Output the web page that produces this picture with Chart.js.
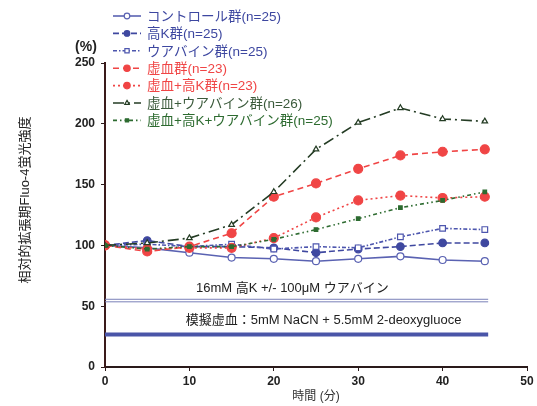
<!DOCTYPE html>
<html><head><meta charset="utf-8">
<script src="https://cdn.jsdelivr.net/npm/chart.js@4/dist/chart.umd.min.js"></script>
<style>html,body{margin:0;padding:0;background:#fff}#wrap{width:537px;height:406px}</style>
</head><body><div id="wrap"><canvas id="c" width="537" height="406"></canvas></div>
<script>
const times = [0, 5, 10, 15, 20, 25, 30, 35, 40, 45];
const seriesLabels = [
  'コントロール群(n=25)', '高K群(n=25)', 'ウアバイン群(n=25)',
  '虚血群(n=23)', '虚血+高K群(n=23)', '虚血+ウアバイン群(n=26)', '虚血+高K+ウアバイン群(n=25)'
];
const control      = [100, 98, 94, 90, 89, 87, 89, 91, 88, 87];
const highK        = [100, 104, 99, 99, 98, 94, 97, 99, 102, 102];
const ouabain      = [100, 101, 99, 101, 97, 99, 98, 107, 114, 113];
const ischemia     = [100, 95, 99, 110, 140, 151, 163, 174, 177, 179];
const ischHighK    = [100, 97, 98, 98, 106, 123, 137, 141, 139, 140];
const ischOuabain  = [100, 102, 106, 117, 144, 179, 201, 213, 204, 202];
const ischHKOua    = [100, 97, 99, 99, 105, 113, 122, 131, 137, 144];
const xTicks = [0, 10, 20, 30, 40, 50];
const yTicks = [0, 50, 100, 150, 200, 250];
const barHighK = [55.7, 53.6];   // 16mM high K period (double line)
const barIsch = [26.7];          // simulated ischemia period
const barSpan = [0, 45.4];
const noteHighK = '16mM 高K +/- 100μM ウアバイン';
const noteIsch = '模擬虚血：5mM NaCN + 5.5mM 2-deoxygluoce';
const yTitle = '相対的拡張期Fluo-4蛍光強度';
const xTitle = '時間 (分)';
const unitLabel = '(%)';

const FONT = '"Liberation Sans", Arial, "Noto Sans CJK JP", sans-serif';
const toXY = arr => arr.map((v, i) => ({x: times[i], y: v}));
const styles = [
  {c:'#5a62b2', dash:[], ps:'circle', r:3.5, lr:2.8, fill:'#ffffff', lc:'#3d47a0'},
  {c:'#3f48a0', dash:[6,3], ps:'circle', r:3.8, lr:2.8, fill:'#3f48a0', lc:'#3d47a0'},
  {c:'#4d56ae', dash:[4,2,1.5,2], ps:'rect', r:4, lr:3, fill:'#ffffff', lc:'#3d47a0'},
  {c:'#f04545', dash:[6,4], ps:'circle', r:4.5, lr:3.2, fill:'#f04545', lc:'#f04545'},
  {c:'#f04545', dash:[2,3], ps:'circle', r:4.5, lr:3.2, fill:'#f04545', lc:'#f04545'},
  {c:'#243c24', dash:[11,4,2,4], ps:'triangle', r:3.2, lr:2.6, fill:'#ffffff', lc:'#3b5a3b'},
  {c:'#2d6b30', dash:[4,3,1.5,3,1.5,3], ps:'rect', r:2.5, lr:2.2, fill:'#2d6b30', lc:'#2d6b30'}
];
const allSeries = [control, highK, ouabain, ischemia, ischHighK, ischOuabain, ischHKOua];
const datasets = allSeries.map((s, i) => ({
  label: seriesLabels[i], data: toXY(s), borderColor: styles[i].c, borderWidth: 1.6,
  borderDash: styles[i].dash, pointStyle: styles[i].ps, pointRadius: styles[i].r,
  pointBackgroundColor: styles[i].fill, pointBorderColor: styles[i].c, pointBorderWidth: 1.2,
  tension: 0, order: 7 - i, isSeries: true, legendColor: styles[i].lc, legendRadius: styles[i].lr
}));
barHighK.forEach(v => datasets.push({label: '', data: barSpan.map(x => ({x, y: v})),
  borderColor: '#7a80b8', borderWidth: 1, pointRadius: 0, isSeries: false}));
barIsch.forEach(v => datasets.push({label: '', data: barSpan.map(x => ({x, y: v})),
  borderColor: '#4a55a8', borderWidth: 4, pointRadius: 0, isSeries: false}));

const overlay = {
  id: 'overlay',
  afterDraw(chart) {
    const ctx = chart.ctx, xs = chart.scales.x, ys = chart.scales.y;
    ctx.save();
    ctx.fillStyle = '#222';
    ctx.font = '13px ' + FONT;
    ctx.textAlign = 'center'; ctx.textBaseline = 'middle';
    ctx.fillText(noteHighK, xs.getPixelForValue(22.2), ys.getPixelForValue(64.5));
    ctx.fillText(noteIsch, xs.getPixelForValue(25.9), ys.getPixelForValue(38.5));
    ctx.font = 'bold 14px ' + FONT;
    ctx.fillText(unitLabel, 86, 47);
    ctx.save();
    ctx.translate(25, 200); ctx.rotate(-Math.PI/2);
    ctx.font = '13px ' + FONT;
    ctx.fillText(yTitle, 0, 0);
    ctx.restore();
    // legend
    let y0 = 16;
    chart.data.datasets.filter(d => d.isSeries).forEach((d, i) => {
      const y = y0 + i * 17.4;
      ctx.strokeStyle = d.borderColor; ctx.lineWidth = 1.6;
      ctx.setLineDash(d.borderDash);
      ctx.beginPath(); ctx.moveTo(113, y); ctx.lineTo(141, y); ctx.stroke();
      ctx.setLineDash([]);
      ctx.lineWidth = 1.2; ctx.strokeStyle = d.pointBorderColor; ctx.fillStyle = d.pointBackgroundColor;
      Chart.helpers.drawPoint(ctx, {pointStyle: d.pointStyle, radius: d.legendRadius, borderWidth: 1.2}, 127, y);
      ctx.fillStyle = d.legendColor; ctx.textAlign = 'left';
      ctx.font = '13.5px ' + FONT;
      ctx.fillText(d.label, 147, y + 1);
    });
    ctx.restore();
  }
};

new Chart(document.getElementById('c'), {
  type: 'line',
  data: {datasets},
  options: {
    responsive: false, animation: false, devicePixelRatio: 1,
    layout: {padding: {left: 0, top: 63, right: 10, bottom: 0}},
    plugins: {legend: {display: false}, tooltip: {enabled: false}},
    scales: {
      x: {
        type: 'linear', min: 0, max: 50,
        afterBuildTicks: s => { s.ticks = xTicks.map(v => ({value: v})); },
        afterFit: s => { s.height = 39; },
        grid: {drawOnChartArea: false, drawTicks: true, tickLength: 4, color: '#2a1a1a'},
        border: {display: true, color: '#2a1a1a', width: 2},
        ticks: {color: '#222', padding: 3, font: {family: FONT, size: 12, weight: 'bold'}, maxRotation: 0},
        title: {display: true, text: xTitle, color: '#333', padding: {top: 0, bottom: 2}, font: {family: FONT, size: 12}}
      },
      y: {
        min: 0, max: 250,
        afterBuildTicks: s => { s.ticks = yTicks.map(v => ({value: v})); },
        afterFit: s => { s.width = 105; },
        grid: {drawOnChartArea: false, drawTicks: true, tickLength: 4, color: '#2a1a1a'},
        border: {display: true, color: '#3a1a1a', width: 2},
        ticks: {color: '#222', padding: 6, font: {family: FONT, size: 12, weight: 'bold'}}
      }
    }
  },
  plugins: [overlay]
});
</script></body></html>
